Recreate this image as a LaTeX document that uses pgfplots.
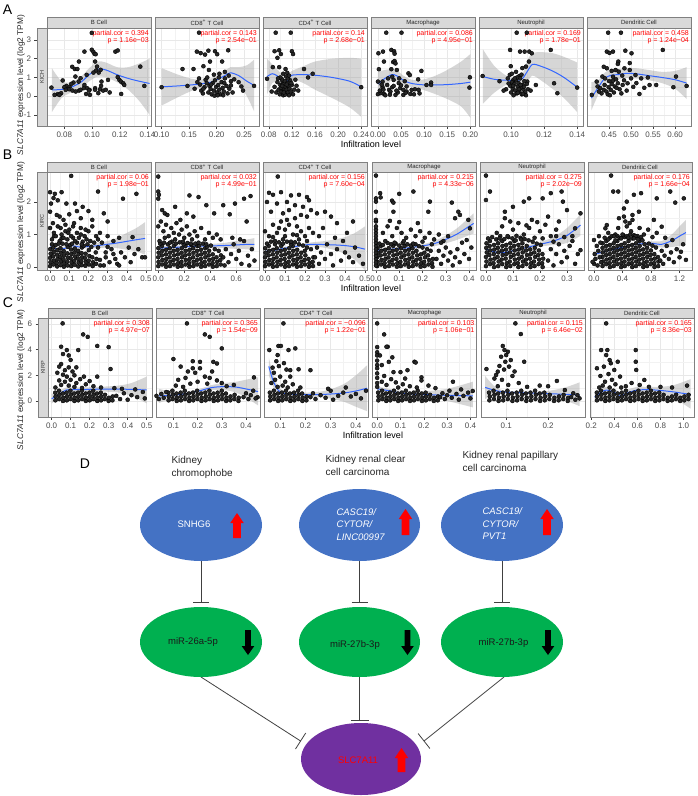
\documentclass[border=0pt]{standalone}
\usepackage{pgfplots}
\pgfplotsset{compat=1.18}
\usepgfplotslibrary{fillbetween}
\usepackage{fontspec}
\setmainfont{Liberation Sans}

\definecolor{lineblue}{HTML}{3366FF}
\definecolor{bandgray}{HTML}{999999}
\definecolor{stripgray}{HTML}{D9D9D9}
\definecolor{ellblue}{HTML}{4472C4}
\definecolor{ellgreen}{HTML}{00B050}
\definecolor{ellpurple}{HTML}{7030A0}

\tikzset{corr/.style={anchor=north east, align=right, font=\fontsize{7}{6.6}\selectfont, text=red, inner sep=0pt, xshift=-2pt, yshift=-2.2pt}}

\pgfplotsset{
  panel/.style={
    scale only axis, width=104pt, anchor=north west,
    axis line style={draw=black!50, line width=0.6pt},
    grid=both, minor tick num=1,
    major grid style={draw=black!9, line width=0.5pt},
    minor grid style={draw=black!5, line width=0.3pt},
    xtick pos=bottom, ytick pos=left, tick align=outside,
    major tick length=2.5pt, minor tick length=0pt,
    tick style={draw=black!75, line width=0.5pt},
    ytick style={draw=none},
    yticklabels={},
    tick label style={font=\fontsize{8}{8}\selectfont, text=black!70},
    /pgf/number format/assume math mode=true,
  },
  stripax/.style={
    scale only axis, width=10pt, anchor=north west,
    xmin=0, xmax=1, xtick=\empty, ytick pos=left, tick align=outside,
    major tick length=2.5pt, tick style={draw=black!75, line width=0.5pt},
    axis line style={draw=black!50, line width=0.6pt},
    axis background/.style={fill=stripgray},
    tick label style={font=\fontsize{8}{8}\selectfont, text=black!70},
    /pgf/number format/assume math mode=true,
  },
  dec2/.style={xticklabel style={/pgf/number format/fixed, /pgf/number format/fixed zerofill, /pgf/number format/precision=2}},
  dec1/.style={xticklabel style={/pgf/number format/fixed, /pgf/number format/fixed zerofill, /pgf/number format/precision=1}},
  rowA/.style={height=98pt, ymin=-1.59, ymax=3.64, ytick={-1,0,1,2,3}},
  rowB/.style={height=98pt, ymin=-0.09, ymax=2.92, ytick={0,1,2}},
  rowC/.style={height=99pt, ymin=-1.25, ymax=6.47, ytick={0,2,4,6}},
  pts/.style={only marks, mark=*, mark size=2pt, mark options={draw=none, fill=black!85}},
  hid/.style={draw=none, smooth, forget plot},
  ribbon/.style={fill=bandgray, fill opacity=0.4, draw=none},
  loess/.style={draw=lineblue, line width=1pt, smooth, no markers},
}

\newcommand{\redup}[3]{\fill[red] (#1,#2) -- ({#1+6.7},{#2+10}) -- ({#1+3.8},{#2+10}) -- ({#1+3.8},#3) -- ({#1-3.8},#3) -- ({#1-3.8},{#2+10}) -- ({#1-6.7},{#2+10}) -- cycle;}
\newcommand{\blackdown}[3]{\fill[black] (#1,#3) -- ({#1+6.3},{#3-9}) -- ({#1+2.8},{#3-9}) -- ({#1+2.8},#2) -- ({#1-2.8},#2) -- ({#1-2.8},{#3-9}) -- ({#1-6.3},{#3-9}) -- cycle;}

\begin{document}
\begin{tikzpicture}

% ================= ROW A : KICH =================
\begin{axis}[stripax, rowA, at={(37pt,-28pt)}]
\node[rotate=90, font=\fontsize{5.5}{5.5}\selectfont, text=black!80] at (rel axis cs:0.5,0.5) {KICH};
\end{axis}

\begin{axis}[panel, rowA, dec2, at={(47pt,-28pt)}, xmin=0.0675, xmax=0.1425, xtick={0.08,0.10,0.12,0.14}]
\addplot[pts] coordinates {
(0.0998,3.38)(0.0945,2.38)(0.0998,2.48)(0.1010,2.36)(0.1018,2.26)(0.1026,2.24)(0.1168,2.38)(0.1185,2.44)
(0.0905,1.85)(0.1022,1.85)(0.1348,1.58)(0.0857,1.57)(0.0876,1.45)(0.0894,1.45)(0.1036,1.58)(0.1029,1.37)
(0.1010,1.26)(0.1048,1.26)(0.1062,1.41)(0.0961,1.14)(0.1068,0.78)(0.1115,0.87)(0.1185,1.02)(0.1197,0.87)
(0.1208,0.78)(0.1225,0.69)(0.1232,0.60)(0.0880,1.05)(0.0917,0.96)(0.0903,0.78)(0.0866,0.73)(0.0850,0.66)
(0.0815,0.55)(0.0838,0.48)(0.0707,0.46)(0.0788,0.84)(0.0800,0.48)(0.0810,0.34)(0.0777,0.16)(0.0753,0.11)
(0.0730,0.07)(0.0765,0.07)(0.0836,0.37)(0.0859,0.30)(0.0882,0.25)(0.0906,0.30)(0.0917,0.34)(0.0940,0.43)
(0.0964,0.43)(0.0982,0.34)(0.1022,0.43)(0.1057,0.37)(0.1080,0.30)(0.1099,0.34)(0.1127,0.20)(0.1022,0.34)
(0.1045,0.16)(0.0985,0.07)(0.0957,0.12)(0.1210,0.12)(0.1377,0.55)(0.0945,0.60)(0.0978,0.30)(0.1065,0.55)};
\addplot[hid, name path=U] coordinates {(0.071,1.50)(0.078,0.80)(0.085,0.75)(0.092,1.05)(0.098,1.50)(0.104,1.85)(0.110,1.80)(0.118,1.55)(0.126,1.55)(0.134,1.75)(0.1415,2.00)};
\addplot[hid, name path=L] coordinates {(0.071,-0.85)(0.078,-0.10)(0.085,0.20)(0.092,0.45)(0.098,0.80)(0.104,1.05)(0.110,1.00)(0.118,0.75)(0.126,0.35)(0.134,-0.25)(0.1415,-1.00)};
\addplot[ribbon] fill between[of=U and L];
\addplot[loess] coordinates {(0.071,0.34)(0.078,0.36)(0.085,0.48)(0.092,0.75)(0.098,1.15)(0.104,1.45)(0.110,1.40)(0.118,1.15)(0.126,0.95)(0.134,0.80)(0.1415,0.68)};
\node[corr] at (rel axis cs:1,1) {partial.cor = 0.394\\p = 1.16e−03};
\end{axis}

\begin{axis}[panel, rowA, dec2, at={(155pt,-28pt)}, xmin=0.088, xmax=0.277, xtick={0.10,0.15,0.20,0.25}]
\addplot[pts] coordinates {
(0.168,3.39)(0.164,2.38)(0.171,2.30)(0.179,2.22)(0.185,2.43)(0.197,2.40)(0.201,2.24)(0.221,2.45)
(0.188,1.85)(0.186,1.40)(0.210,1.85)(0.138,1.45)(0.158,1.45)(0.176,1.60)(0.195,1.15)(0.205,1.20)
(0.215,1.30)(0.222,1.10)(0.232,0.90)(0.240,0.75)(0.245,0.52)(0.248,0.30)(0.268,0.55)(0.100,0.48)
(0.147,0.55)(0.160,0.40)(0.165,0.75)(0.170,0.62)(0.172,0.30)(0.175,0.15)(0.178,0.48)(0.180,0.88)
(0.182,0.70)(0.185,0.20)(0.187,0.55)(0.189,0.38)(0.191,0.10)(0.193,0.70)(0.195,0.30)(0.197,0.85)
(0.199,0.50)(0.201,0.20)(0.203,0.60)(0.205,0.35)(0.207,0.10)(0.209,0.75)(0.211,0.45)(0.213,0.25)
(0.215,0.95)(0.218,0.55)(0.220,0.15)(0.223,0.40)(0.226,0.80)(0.229,0.20)(0.212,0.05)(0.196,0.03)
(0.183,1.00)(0.168,0.95)(0.226,0.58)(0.204,1.00)(0.190,0.62)(0.214,0.70)(0.202,0.05)(0.176,0.40)};
\addplot[hid, name path=U] coordinates {(0.100,1.50)(0.130,1.15)(0.160,0.90)(0.190,0.95)(0.205,1.15)(0.215,1.35)(0.225,1.55)(0.240,1.55)(0.255,1.65)(0.268,1.95)};
\addplot[hid, name path=L] coordinates {(0.100,-0.50)(0.130,-0.05)(0.160,0.35)(0.190,0.55)(0.205,0.75)(0.215,0.85)(0.225,0.95)(0.240,0.65)(0.255,0.00)(0.268,-0.80)};
\addplot[ribbon] fill between[of=U and L];
\addplot[loess] coordinates {(0.100,0.50)(0.130,0.55)(0.160,0.62)(0.190,0.75)(0.205,0.95)(0.215,1.10)(0.225,1.25)(0.240,1.10)(0.255,0.80)(0.268,0.58)};
\node[corr] at (rel axis cs:1,1) {partial.cor = 0.143\\p = 2.54e−01};
\end{axis}

\begin{axis}[panel, rowA, dec2, at={(263pt,-28pt)}, xmin=0.07, xmax=0.25, xtick={0.08,0.12,0.16,0.20,0.24}]
\addplot[pts] coordinates {
(0.092,3.39)(0.118,3.39)(0.090,2.40)(0.098,2.45)(0.101,2.25)(0.095,2.05)(0.120,2.40)(0.122,2.25)
(0.077,0.93)(0.087,1.55)(0.098,1.55)(0.109,1.45)(0.110,1.05)(0.104,0.78)(0.141,1.45)(0.156,1.20)
(0.148,1.00)(0.126,0.88)(0.128,0.56)(0.240,0.48)(0.085,0.25)(0.090,0.50)(0.093,0.20)(0.095,0.75)
(0.097,0.35)(0.099,0.10)(0.100,0.60)(0.102,0.25)(0.103,0.90)(0.104,0.40)(0.105,0.05)(0.106,0.65)
(0.107,0.30)(0.108,0.80)(0.109,0.15)(0.110,0.50)(0.111,0.35)(0.112,0.70)(0.113,0.20)(0.114,0.55)
(0.115,0.05)(0.116,0.40)(0.117,0.85)(0.118,0.25)(0.120,0.60)(0.122,0.10)(0.124,0.35)(0.105,1.20)
(0.112,1.25)(0.100,1.00)(0.096,0.95)(0.108,0.08)(0.113,0.95)(0.119,0.70)(0.101,0.45)(0.111,0.62)
(0.106,0.20)(0.103,0.55)(0.131,0.30)(0.115,1.10)};
\addplot[hid, name path=U] coordinates {(0.077,2.00)(0.086,1.70)(0.094,1.45)(0.100,1.25)(0.106,1.00)(0.110,0.90)(0.114,1.15)(0.120,1.35)(0.140,1.60)(0.160,1.85)(0.190,2.00)(0.220,2.05)(0.240,2.00)};
\addplot[hid, name path=L] coordinates {(0.077,0.10)(0.086,0.70)(0.094,0.75)(0.100,0.65)(0.106,0.50)(0.110,0.40)(0.114,0.65)(0.120,0.90)(0.140,0.70)(0.160,0.35)(0.190,-0.10)(0.220,-0.60)(0.240,-1.10)};
\addplot[ribbon] fill between[of=U and L];
\addplot[loess] coordinates {(0.077,1.05)(0.086,1.20)(0.094,1.10)(0.100,0.95)(0.106,0.75)(0.110,0.65)(0.114,0.90)(0.120,1.12)(0.140,1.15)(0.160,1.12)(0.190,1.00)(0.220,0.80)(0.240,0.50)};
\node[corr] at (rel axis cs:1,1) {partial.cor = 0.14\\p = 2.68e−01};
\end{axis}

\begin{axis}[panel, rowA, dec2, at={(371pt,-28pt)}, xmin=-0.015, xmax=0.21, xtick={0,0.05,0.10,0.15,0.20}]
\addplot[pts] coordinates {
(0.018,3.39)(0.051,3.39)(0.001,2.29)(0.011,2.38)(0.029,2.47)(0.035,2.40)(0.036,2.27)(0.013,1.85)
(0.033,1.82)(0.036,1.88)(0.038,1.75)(0.002,1.44)(0.029,1.44)(0.041,1.40)(0.066,1.22)(0.069,1.13)
(0.094,1.35)(0.115,0.73)(0.087,0.90)(0.000,0.78)(0.010,0.78)(0.031,1.04)(0.034,0.87)(0.045,0.70)
(0.000,0.11)(0.006,0.16)(0.013,0.12)(0.024,0.34)(0.031,0.48)(0.038,0.07)(0.048,0.43)(0.055,0.34)
(0.062,0.25)(0.073,0.34)(0.080,0.37)(0.088,0.34)(0.010,0.48)(0.020,0.60)(0.027,0.25)(0.062,0.52)
(0.055,0.07)(0.105,0.60)(0.115,0.60)(0.199,1.01)(0.198,0.46)(0.004,0.30)(0.016,0.05)(0.043,0.20)
(0.050,0.58)(0.070,0.12)(0.022,0.95)(0.008,0.62)(0.058,0.80)(0.078,0.10)(0.040,0.30)(0.026,0.08)
(0.012,0.35)(0.046,0.95)(0.060,0.18)(0.090,0.15)(0.034,0.55)};
\addplot[hid, name path=U] coordinates {(0.0,1.30)(0.015,1.40)(0.03,1.45)(0.04,1.40)(0.055,1.10)(0.07,0.90)(0.09,0.85)(0.12,1.05)(0.15,1.40)(0.18,1.85)(0.20,2.25)};
\addplot[hid, name path=L] coordinates {(0.0,0.00)(0.015,0.50)(0.03,0.85)(0.04,0.80)(0.055,0.60)(0.07,0.50)(0.09,0.40)(0.12,0.15)(0.15,-0.15)(0.18,-0.55)(0.20,-1.15)};
\addplot[ribbon] fill between[of=U and L];
\addplot[loess] coordinates {(0.0,0.65)(0.015,0.95)(0.03,1.15)(0.04,1.10)(0.055,0.85)(0.07,0.70)(0.09,0.62)(0.12,0.60)(0.15,0.62)(0.18,0.68)(0.20,0.75)};
\node[corr] at (rel axis cs:1,1) {partial.cor = 0.086\\p = 4.95e−01};
\end{axis}

\begin{axis}[panel, rowA, dec2, at={(479pt,-28pt)}, xmin=0.0806, xmax=0.1435, xtick={0.10,0.12,0.14}]
\addplot[pts] coordinates {
(0.1034,3.39)(0.1095,3.39)(0.0994,2.47)(0.1054,2.38)(0.1082,2.38)(0.1110,2.38)(0.1125,2.29)(0.1240,2.47)
(0.1108,1.85)(0.0998,1.60)(0.1068,1.50)(0.1090,1.58)(0.0992,1.14)(0.1030,1.30)(0.1050,1.08)(0.0970,0.37)
(0.1014,0.87)(0.1098,0.78)(0.1102,0.37)(0.1150,0.60)(0.1260,0.69)(0.1280,0.16)(0.1400,0.46)(0.0828,1.08)
(0.0930,0.80)(0.0955,0.30)(0.0980,0.95)(0.0995,0.55)(0.1000,0.20)(0.1005,0.75)(0.1010,0.40)(0.1015,0.05)
(0.1020,0.65)(0.1025,0.30)(0.1030,0.85)(0.1035,0.15)(0.1040,0.50)(0.1045,0.70)(0.1050,0.25)(0.1055,0.95)
(0.1060,0.45)(0.1065,0.10)(0.1070,0.60)(0.1075,0.35)(0.1080,0.80)(0.1085,0.20)(0.1090,0.05)(0.1063,1.15)
(0.1036,1.00)(0.1012,0.55)(0.1048,0.38)(0.1072,0.12)(0.1022,0.95)(0.0985,0.68)(0.1041,0.18)(0.1078,0.50)
(0.1095,0.65)(0.1005,1.20)(0.1118,0.30)(0.1058,0.60)};
\addplot[hid, name path=U] coordinates {(0.083,2.50)(0.090,1.60)(0.098,1.05)(0.104,1.00)(0.107,1.20)(0.110,1.95)(0.113,2.30)(0.118,2.35)(0.125,2.30)(0.132,2.10)(0.140,1.80)};
\addplot[hid, name path=L] coordinates {(0.083,-0.40)(0.090,0.20)(0.098,0.65)(0.104,0.70)(0.107,0.70)(0.110,0.80)(0.113,1.10)(0.118,0.85)(0.125,0.40)(0.132,-0.10)(0.140,-0.85)};
\addplot[ribbon] fill between[of=U and L];
\addplot[loess] coordinates {(0.083,1.05)(0.090,0.90)(0.098,0.85)(0.104,0.85)(0.107,0.95)(0.110,1.35)(0.113,1.70)(0.118,1.60)(0.125,1.35)(0.132,1.00)(0.140,0.48)};
\node[corr] at (rel axis cs:1,1) {partial.cor = 0.169\\p = 1.78e−01};
\end{axis}

\begin{axis}[panel, rowA, dec2, at={(587pt,-28pt)}, xmin=0.40, xmax=0.636, xtick={0.45,0.50,0.55,0.60}]
\addplot[pts] coordinates {
(0.448,3.39)(0.477,3.39)(0.445,2.38)(0.451,2.31)(0.459,2.38)(0.487,2.43)(0.501,2.29)(0.572,2.47)
(0.471,1.85)(0.470,1.72)(0.497,1.77)(0.438,1.57)(0.445,1.49)(0.456,1.35)(0.465,1.40)(0.472,1.31)
(0.485,1.49)(0.497,1.40)(0.510,1.13)(0.435,1.05)(0.422,0.78)(0.411,0.07)(0.424,0.52)(0.430,0.43)
(0.438,0.34)(0.444,0.25)(0.449,0.48)(0.454,0.34)(0.463,0.52)(0.470,0.69)(0.474,0.37)(0.481,0.60)
(0.492,0.69)(0.519,0.12)(0.542,0.60)(0.557,0.60)(0.596,0.48)(0.602,1.05)(0.626,0.55)(0.459,1.04)
(0.450,0.81)(0.459,0.83)(0.538,1.00)(0.523,0.95)(0.433,0.15)(0.440,0.60)(0.447,0.10)(0.456,0.65)
(0.461,0.20)(0.467,0.45)(0.478,0.15)(0.484,0.85)(0.490,0.30)(0.505,0.50)(0.427,0.25)(0.441,0.95)
(0.452,0.05)(0.466,0.90)(0.480,1.10)(0.512,0.70)(0.500,0.95)(0.530,0.45)};
\addplot[hid, name path=U] coordinates {(0.41,0.75)(0.425,0.85)(0.44,1.25)(0.455,1.45)(0.47,1.45)(0.49,1.50)(0.51,1.50)(0.54,1.40)(0.57,1.30)(0.60,1.35)(0.626,1.55)};
\addplot[hid, name path=L] coordinates {(0.41,-0.75)(0.425,0.05)(0.44,0.65)(0.455,0.85)(0.47,0.90)(0.49,0.98)(0.51,0.95)(0.54,0.85)(0.57,0.70)(0.60,0.40)(0.626,-0.15)};
\addplot[ribbon] fill between[of=U and L];
\addplot[loess] coordinates {(0.41,-0.10)(0.425,0.45)(0.44,0.95)(0.455,1.12)(0.47,1.15)(0.49,1.22)(0.51,1.20)(0.54,1.10)(0.57,1.00)(0.60,0.88)(0.626,0.70)};
\node[corr] at (rel axis cs:1,1) {partial.cor = 0.458\\p = 1.24e−04};
\end{axis}

% ================= ROW B : KIRC =================
\begin{axis}[stripax, rowB, at={(37pt,-172pt)}]
\node[rotate=90, font=\fontsize{5.5}{5.5}\selectfont, text=black!80] at (rel axis cs:0.5,0.5) {KIRC};
\end{axis}

\begin{axis}[panel, rowB, dec1, at={(47pt,-172pt)}, xmin=-0.016, xmax=0.526, xtick={0,0.1,0.2,0.3,0.4,0.5}]
\addplot[pts] coordinates {
(0.000,0.03)(0.002,0.15)(0.000,0.28)(0.003,0.41)(0.001,0.55)
(0.018,0.08)(0.020,0.20)(0.016,0.33)(0.019,0.47)(0.017,0.60)
(0.037,0.02)(0.035,0.13)(0.039,0.25)(0.036,0.38)(0.038,0.52)
(0.055,0.06)(0.057,0.18)(0.053,0.31)(0.056,0.44)(0.054,0.58)
(0.072,0.01)(0.074,0.12)(0.070,0.24)(0.073,0.36)(0.071,0.49)
(0.091,0.05)(0.089,0.17)(0.093,0.29)(0.090,0.42)(0.092,0.62)
(0.110,0.03)(0.112,0.15)(0.108,0.27)(0.111,0.40)(0.109,0.54)
(0.128,0.07)(0.126,0.19)(0.130,0.32)(0.127,0.45)(0.129,0.57)
(0.147,0.02)(0.149,0.14)(0.145,0.26)(0.148,0.39)(0.146,0.50)
(0.165,0.06)(0.163,0.18)(0.167,0.30)(0.164,0.43)(0.166,0.60)
(0.184,0.04)(0.186,0.16)(0.182,0.28)(0.185,0.41)
(0.203,0.08)(0.201,0.20)(0.205,0.34)(0.202,0.52)
(0.222,0.03)(0.224,0.15)(0.220,0.30)
(0.240,0.10)(0.242,0.25)(0.238,0.45)
(0.262,0.05)(0.260,0.22)
(0.010,0.70)(0.030,0.68)(0.065,0.72)(0.085,0.70)(0.105,0.68)(0.140,0.75)(0.175,0.65)(0.195,0.70)
(0.215,0.62)(0.250,0.60)(0.060,0.88)(0.120,0.90)(0.020,0.95)(0.080,1.10)(0.160,1.00)
(0.110,2.80)(0.000,2.30)(0.025,2.25)(0.018,2.12)(0.060,2.30)(0.005,1.95)(0.040,2.05)(0.085,1.95)
(0.130,1.95)(0.250,2.32)(0.380,2.10)(0.450,2.25)(0.170,1.85)(0.200,1.72)(0.280,1.65)(0.000,1.70)
(0.035,1.60)(0.050,1.55)(0.100,1.62)(0.140,1.72)(0.070,1.45)(0.160,1.50)(0.220,1.45)(0.300,1.40)
(0.000,1.20)(0.020,1.05)(0.040,1.25)(0.060,1.00)(0.080,1.30)(0.100,1.15)(0.120,1.25)(0.140,1.05)
(0.160,1.20)(0.180,0.95)(0.200,1.10)(0.220,1.25)(0.240,0.95)(0.260,1.05)(0.300,0.95)(0.330,0.80)
(0.360,0.90)(0.430,0.92)(0.010,0.85)(0.030,0.95)(0.050,0.80)(0.070,0.90)(0.090,0.85)(0.110,0.95)
(0.130,0.80)(0.150,0.90)(0.170,0.78)(0.190,0.85)(0.210,0.80)(0.230,0.75)(0.250,0.85)(0.270,0.75)
(0.015,1.35)(0.055,1.20)(0.095,1.05)(0.125,1.35)(0.185,1.15)(0.045,0.72)(0.115,0.72)(0.165,0.70)
(0.290,0.30)(0.310,0.15)(0.320,0.55)(0.340,0.25)(0.350,0.10)(0.370,0.45)(0.390,0.30)(0.410,0.60)
(0.440,0.40)(0.480,0.30)(0.495,0.30)(0.300,0.62)(0.330,0.40)(0.360,0.05)(0.420,0.15)(0.460,0.55)
(0.280,0.05)(0.290,0.45)};
\addplot[hid, name path=U] coordinates {(0.0,0.70)(0.04,0.62)(0.08,0.64)(0.11,0.72)(0.15,0.68)(0.2,0.69)(0.25,0.74)(0.3,0.80)(0.35,0.90)(0.4,1.05)(0.45,1.20)(0.495,1.38)};
\addplot[hid, name path=L] coordinates {(0.0,0.54)(0.04,0.48)(0.08,0.52)(0.11,0.60)(0.15,0.56)(0.2,0.57)(0.25,0.58)(0.3,0.60)(0.35,0.58)(0.4,0.53)(0.45,0.48)(0.495,0.38)};
\addplot[ribbon] fill between[of=U and L];
\addplot[loess] coordinates {(0.0,0.62)(0.04,0.55)(0.08,0.58)(0.11,0.66)(0.15,0.62)(0.2,0.63)(0.25,0.66)(0.3,0.70)(0.35,0.74)(0.4,0.79)(0.45,0.84)(0.495,0.88)};
\node[corr] at (rel axis cs:1,1) {partial.cor = 0.06\\p = 1.98e−01};
\end{axis}

\begin{axis}[panel, rowB, dec1, at={(155pt,-172pt)}, xmin=-0.025, xmax=0.775, xtick={0,0.2,0.4,0.6}]
\addplot[pts] coordinates {
(0.000,0.03)(0.002,0.16)(0.000,0.30)(0.003,0.44)(0.001,0.58)
(0.030,0.08)(0.032,0.22)(0.028,0.36)(0.031,0.50)(0.029,0.65)
(0.060,0.01)(0.058,0.12)(0.062,0.25)(0.059,0.39)(0.061,0.53)
(0.090,0.03)(0.092,0.16)(0.088,0.30)(0.091,0.44)(0.089,0.58)
(0.120,0.08)(0.118,0.22)(0.122,0.36)(0.119,0.50)(0.121,0.65)
(0.150,0.01)(0.152,0.12)(0.148,0.25)(0.151,0.39)(0.149,0.53)
(0.180,0.03)(0.178,0.16)(0.182,0.30)(0.179,0.44)(0.181,0.58)
(0.210,0.08)(0.212,0.22)(0.208,0.36)(0.211,0.50)(0.209,0.65)
(0.240,0.01)(0.238,0.12)(0.242,0.25)(0.239,0.39)(0.241,0.53)
(0.270,0.03)(0.272,0.16)(0.268,0.30)(0.271,0.44)(0.269,0.58)
(0.300,0.08)(0.298,0.22)(0.302,0.36)(0.299,0.50)(0.301,0.65)
(0.330,0.01)(0.332,0.12)(0.328,0.25)(0.331,0.39)(0.329,0.53)
(0.360,0.03)(0.358,0.16)(0.362,0.30)(0.359,0.44)(0.361,0.58)
(0.390,0.08)(0.392,0.22)(0.388,0.36)(0.391,0.50)
(0.420,0.01)(0.418,0.12)(0.422,0.25)(0.419,0.39)
(0.450,0.03)(0.452,0.16)(0.448,0.30)
(0.480,0.08)(0.478,0.22)(0.482,0.36)
(0.015,0.72)(0.045,0.75)(0.075,0.70)(0.105,0.78)(0.135,0.72)(0.165,0.76)(0.195,0.70)(0.225,0.74)
(0.255,0.68)(0.285,0.72)(0.315,0.66)(0.345,0.72)(0.375,0.62)(0.405,0.66)(0.435,0.55)(0.465,0.50)
(0.000,2.78)(0.000,2.32)(0.005,2.22)(0.000,2.10)(0.030,1.75)(0.050,1.65)(0.070,1.60)(0.130,1.85)
(0.220,1.65)(0.240,2.20)(0.310,2.15)(0.370,1.90)(0.430,1.65)(0.500,1.90)(0.550,1.62)(0.590,1.95)
(0.660,2.10)(0.710,2.18)(0.680,1.40)(0.270,1.55)(0.170,1.45)
(0.000,1.25)(0.020,1.40)(0.040,1.10)(0.060,1.30)(0.080,0.95)(0.100,1.20)(0.120,1.05)(0.140,1.35)
(0.160,1.00)(0.180,1.15)(0.200,0.90)(0.220,1.25)(0.240,1.00)(0.260,0.85)(0.280,1.10)(0.300,0.95)
(0.330,1.20)(0.360,0.85)(0.390,1.05)(0.420,0.90)(0.450,1.00)(0.480,0.85)(0.010,0.80)(0.050,0.90)
(0.090,0.75)(0.130,0.85)(0.190,0.78)(0.250,0.72)(0.310,0.75)(0.370,0.70)
(0.500,0.30)(0.520,0.55)(0.540,0.15)(0.560,0.40)(0.580,0.70)(0.600,0.25)(0.620,0.50)(0.640,0.10)
(0.660,0.80)(0.690,0.35)(0.720,0.55)(0.740,0.20)(0.700,0.05)(0.510,0.05)(0.570,0.90)(0.630,0.85)};
\addplot[hid, name path=U] coordinates {(0.0,0.66)(0.1,0.66)(0.2,0.67)(0.3,0.69)(0.4,0.71)(0.5,0.74)(0.6,0.80)(0.7,0.86)(0.74,0.89)};
\addplot[hid, name path=L] coordinates {(0.0,0.50)(0.1,0.54)(0.2,0.57)(0.3,0.59)(0.4,0.59)(0.5,0.58)(0.6,0.56)(0.7,0.54)(0.74,0.51)};
\addplot[ribbon] fill between[of=U and L];
\addplot[loess] coordinates {(0.0,0.58)(0.1,0.60)(0.2,0.62)(0.3,0.64)(0.4,0.65)(0.5,0.66)(0.6,0.68)(0.7,0.70)(0.74,0.70)};
\node[corr] at (rel axis cs:1,1) {partial.cor = 0.032\\p = 4.99e−01};
\end{axis}

\begin{axis}[panel, rowB, dec1, at={(263pt,-172pt)}, xmin=-0.01, xmax=0.51, xtick={0,0.1,0.2,0.3,0.4,0.5}]
\addplot[pts] coordinates {
(0.000,0.03)(0.002,0.16)(0.000,0.30)(0.003,0.44)(0.001,0.58)
(0.020,0.08)(0.022,0.22)(0.018,0.36)(0.021,0.50)(0.019,0.65)
(0.040,0.01)(0.038,0.12)(0.042,0.25)(0.039,0.39)(0.041,0.53)
(0.060,0.03)(0.062,0.16)(0.058,0.30)(0.061,0.44)(0.059,0.58)
(0.080,0.08)(0.078,0.22)(0.082,0.36)(0.079,0.50)(0.081,0.65)
(0.100,0.01)(0.102,0.12)(0.098,0.25)(0.101,0.39)(0.099,0.53)
(0.120,0.03)(0.118,0.16)(0.122,0.30)(0.119,0.44)(0.121,0.58)
(0.140,0.08)(0.142,0.22)(0.138,0.36)(0.141,0.50)(0.139,0.65)
(0.160,0.01)(0.158,0.12)(0.162,0.25)(0.159,0.39)(0.161,0.53)
(0.180,0.03)(0.182,0.16)(0.178,0.30)(0.181,0.44)
(0.200,0.08)(0.198,0.22)(0.202,0.36)(0.199,0.50)
(0.220,0.01)(0.222,0.12)(0.218,0.25)
(0.240,0.03)(0.238,0.16)(0.242,0.30)
(0.010,0.72)(0.030,0.78)(0.050,0.70)(0.070,0.76)(0.090,0.72)(0.110,0.78)(0.130,0.70)(0.150,0.76)
(0.170,0.70)(0.190,0.66)(0.210,0.60)(0.230,0.55)(0.040,0.92)(0.100,0.95)(0.160,0.98)
(0.064,2.78)(0.020,2.28)(0.040,2.22)(0.080,2.30)(0.130,2.20)(0.170,2.22)(0.210,2.15)(0.220,2.05)
(0.010,2.00)(0.060,1.95)(0.110,2.00)(0.150,1.90)(0.190,1.85)(0.230,1.75)(0.030,1.70)(0.090,1.65)
(0.120,1.75)(0.180,1.60)(0.210,1.55)(0.260,1.65)(0.300,1.70)(0.330,1.55)(0.360,1.35)(0.440,1.40)
(0.410,1.05)
(0.000,1.10)(0.020,0.95)(0.040,1.30)(0.060,1.05)(0.080,1.40)(0.100,1.15)(0.120,1.30)(0.140,1.00)
(0.160,1.25)(0.180,1.10)(0.200,0.95)(0.220,1.20)(0.240,1.05)(0.270,0.95)(0.290,1.20)(0.050,0.80)
(0.090,0.85)(0.130,0.78)(0.170,0.85)(0.210,0.80)(0.110,1.45)(0.150,1.50)(0.070,1.20)
(0.250,0.30)(0.260,0.60)(0.270,0.10)(0.280,0.45)(0.300,0.25)(0.310,0.70)(0.330,0.40)(0.340,0.05)
(0.360,0.55)(0.380,0.20)(0.400,0.45)(0.420,0.30)(0.440,0.15)(0.450,0.60)(0.470,0.35)(0.490,0.10)
(0.390,0.80)(0.350,0.90)};
\addplot[hid, name path=U] coordinates {(0.0,0.56)(0.05,0.58)(0.1,0.62)(0.15,0.67)(0.2,0.73)(0.25,0.77)(0.3,0.80)(0.35,0.85)(0.4,0.92)(0.45,1.05)(0.5,1.25)};
\addplot[hid, name path=L] coordinates {(0.0,0.40)(0.05,0.46)(0.1,0.54)(0.15,0.59)(0.2,0.63)(0.25,0.63)(0.3,0.59)(0.35,0.52)(0.4,0.40)(0.45,0.22)(0.5,-0.10)};
\addplot[ribbon] fill between[of=U and L];
\addplot[loess] coordinates {(0.0,0.48)(0.05,0.52)(0.1,0.58)(0.15,0.63)(0.2,0.68)(0.25,0.70)(0.3,0.69)(0.35,0.68)(0.4,0.66)(0.45,0.62)(0.5,0.55)};
\node[corr] at (rel axis cs:1,1) {partial.cor = 0.156\\p = 7.60e−04};
\end{axis}

\begin{axis}[panel, rowB, dec1, at={(372pt,-172pt)}, xmin=-0.017, xmax=0.43, xtick={0,0.1,0.2,0.3,0.4}]
\addplot[pts] coordinates {
(0.005,0.03)(0.007,0.16)(0.005,0.30)(0.008,0.44)(0.006,0.58)
(0.022,0.08)(0.024,0.22)(0.020,0.36)(0.023,0.50)(0.021,0.65)
(0.039,0.01)(0.037,0.12)(0.041,0.25)(0.038,0.39)(0.040,0.53)
(0.056,0.03)(0.058,0.16)(0.054,0.30)(0.057,0.44)(0.055,0.58)
(0.073,0.08)(0.071,0.22)(0.075,0.36)(0.072,0.50)(0.074,0.65)
(0.090,0.01)(0.092,0.12)(0.088,0.25)(0.091,0.39)(0.089,0.53)
(0.107,0.03)(0.105,0.16)(0.109,0.30)(0.106,0.44)(0.108,0.58)
(0.124,0.08)(0.126,0.22)(0.122,0.36)(0.125,0.50)(0.123,0.65)
(0.141,0.01)(0.139,0.12)(0.143,0.25)(0.140,0.39)(0.142,0.53)
(0.158,0.03)(0.160,0.16)(0.156,0.30)(0.159,0.44)(0.157,0.58)
(0.175,0.08)(0.173,0.22)(0.177,0.36)(0.174,0.50)
(0.192,0.01)(0.194,0.12)(0.190,0.25)(0.193,0.39)
(0.209,0.03)(0.207,0.16)(0.211,0.30)(0.208,0.44)
(0.226,0.08)(0.228,0.22)(0.224,0.36)
(0.243,0.01)(0.241,0.12)(0.245,0.25)
(0.015,0.72)(0.030,0.68)(0.050,0.74)(0.065,0.70)(0.085,0.72)(0.100,0.66)(0.115,0.74)(0.135,0.70)
(0.150,0.66)(0.170,0.70)(0.185,0.64)(0.200,0.60)(0.220,0.55)(0.235,0.50)
(0.000,0.05)(0.000,0.15)(0.000,0.25)(0.000,0.35)(0.000,0.45)(0.000,0.55)(0.000,0.65)(0.000,0.75)
(0.000,0.85)(0.000,0.95)(0.000,1.05)(0.000,1.15)(0.000,1.25)(0.000,1.40)(0.000,1.45)(0.000,1.70)
(0.000,2.01)(0.000,2.11)(0.000,2.81)
(0.018,2.27)(0.020,2.14)(0.069,2.04)(0.075,1.98)(0.100,2.25)(0.161,2.32)(0.075,1.70)(0.232,2.01)
(0.225,1.70)(0.326,1.98)(0.354,1.70)(0.340,1.50)(0.361,1.60)(0.397,1.45)(0.404,1.19)(0.390,0.83)
(0.030,1.05)(0.050,1.25)(0.070,0.95)(0.090,1.20)(0.110,1.05)(0.130,0.90)(0.150,1.15)(0.170,0.95)
(0.190,1.10)(0.210,0.90)(0.230,1.05)(0.250,0.85)(0.270,1.00)(0.290,0.80)(0.310,0.95)(0.040,0.80)
(0.080,0.75)(0.120,0.80)(0.160,0.72)(0.200,0.78)(0.240,0.70)(0.100,1.38)(0.180,1.35)(0.060,1.42)
(0.260,0.25)(0.270,0.50)(0.280,0.10)(0.290,0.35)(0.300,0.60)(0.310,0.20)(0.320,0.45)(0.330,0.05)
(0.340,0.30)(0.350,0.55)(0.360,0.15)(0.380,0.40)(0.400,0.25)(0.410,0.60)(0.370,0.75)(0.280,0.75)};
\addplot[hid, name path=U] coordinates {(0.0,0.60)(0.05,0.60)(0.1,0.62)(0.15,0.65)(0.2,0.70)(0.25,0.80)(0.3,0.97)(0.35,1.20)(0.4,1.52)(0.42,1.65)};
\addplot[hid, name path=L] coordinates {(0.0,0.44)(0.05,0.48)(0.1,0.52)(0.15,0.55)(0.2,0.60)(0.25,0.64)(0.3,0.73)(0.35,0.84)(0.4,0.98)(0.42,1.03)};
\addplot[ribbon] fill between[of=U and L];
\addplot[loess] coordinates {(0.0,0.52)(0.05,0.54)(0.1,0.57)(0.15,0.60)(0.2,0.65)(0.25,0.72)(0.3,0.85)(0.35,1.02)(0.4,1.25)(0.42,1.34)};
\node[corr] at (rel axis cs:1,1) {partial.cor = 0.215\\p = 4.33e−06};
\end{axis}

\begin{axis}[panel, rowB, dec1, at={(480pt,-172pt)}, xmin=-0.022, xmax=0.363, xtick={0,0.1,0.2,0.3}]
\addplot[pts] coordinates {
(0.000,0.03)(0.002,0.17)(0.000,0.31)(0.003,0.45)(0.001,0.59)(0.002,0.73)
(0.015,0.09)(0.017,0.23)(0.013,0.37)(0.016,0.51)(0.014,0.65)(0.015,0.80)
(0.030,0.00)(0.028,0.12)(0.032,0.26)(0.029,0.40)(0.031,0.54)(0.030,0.68)
(0.045,0.03)(0.047,0.17)(0.043,0.31)(0.046,0.45)(0.044,0.59)(0.045,0.73)
(0.060,0.09)(0.058,0.23)(0.062,0.37)(0.059,0.51)(0.061,0.65)(0.060,0.80)
(0.075,0.00)(0.077,0.12)(0.073,0.26)(0.076,0.40)(0.074,0.54)(0.075,0.68)
(0.090,0.03)(0.088,0.17)(0.092,0.31)(0.089,0.45)(0.091,0.59)(0.090,0.73)
(0.105,0.09)(0.107,0.23)(0.103,0.37)(0.106,0.51)(0.104,0.65)(0.105,0.80)
(0.120,0.00)(0.118,0.12)(0.122,0.26)(0.119,0.40)(0.121,0.54)(0.120,0.68)
(0.135,0.03)(0.137,0.17)(0.133,0.31)(0.136,0.45)(0.134,0.59)(0.135,0.73)
(0.150,0.09)(0.148,0.23)(0.152,0.37)(0.149,0.51)(0.151,0.65)
(0.165,0.00)(0.167,0.12)(0.163,0.26)(0.166,0.40)(0.164,0.54)
(0.180,0.03)(0.178,0.17)(0.182,0.31)(0.179,0.45)(0.181,0.59)
(0.195,0.09)(0.197,0.23)(0.193,0.37)(0.196,0.51)
(0.210,0.00)(0.208,0.12)(0.212,0.26)(0.209,0.40)
(0.008,0.88)(0.023,0.92)(0.038,0.85)(0.053,0.95)(0.068,0.86)(0.083,0.92)(0.098,0.88)(0.113,0.96)
(0.128,0.90)(0.143,0.86)(0.158,0.82)(0.173,0.78)(0.188,0.72)(0.203,0.68)
(0.040,1.05)(0.060,1.25)(0.080,0.95)(0.100,1.15)(0.120,1.35)(0.140,1.00)(0.160,1.20)(0.180,0.90)
(0.200,1.10)(0.220,1.30)(0.240,0.95)(0.260,1.15)(0.050,0.88)(0.090,1.40)(0.130,0.85)(0.170,1.45)
(0.210,0.88)(0.250,0.78)(0.110,0.82)(0.150,1.28)(0.190,1.38)(0.070,1.50)(0.230,1.55)(0.270,1.40)
(0.000,2.81)(0.000,2.06)(0.015,2.32)(0.070,1.70)(0.140,2.01)(0.160,2.11)(0.240,2.27)(0.280,2.32)
(0.285,2.01)(0.210,2.11)(0.350,1.65)(0.330,1.19)(0.350,0.52)(0.100,1.85)(0.300,1.75)(0.320,0.95)
(0.230,0.20)(0.240,0.55)(0.250,0.05)(0.260,0.40)(0.270,0.70)(0.280,0.15)(0.290,0.50)(0.300,0.30)
(0.310,0.65)(0.330,0.10)(0.340,0.40)(0.320,0.80)(0.290,0.92)(0.260,0.95)};
\addplot[hid, name path=U] coordinates {(0.0,0.62)(0.03,0.52)(0.06,0.49)(0.1,0.55)(0.15,0.66)(0.2,0.77)(0.25,0.92)(0.3,1.20)(0.35,1.62)};
\addplot[hid, name path=L] coordinates {(0.0,0.48)(0.03,0.42)(0.06,0.39)(0.1,0.45)(0.15,0.54)(0.2,0.63)(0.25,0.68)(0.3,0.74)(0.35,0.96)};
\addplot[ribbon] fill between[of=U and L];
\addplot[loess] coordinates {(0.0,0.55)(0.03,0.47)(0.06,0.44)(0.1,0.50)(0.15,0.60)(0.2,0.70)(0.25,0.80)(0.3,0.97)(0.35,1.29)};
\node[corr] at (rel axis cs:1,1) {partial.cor = 0.275\\p = 2.02e−09};
\end{axis}

\begin{axis}[panel, rowB, dec1, at={(588pt,-172pt)}, xmin=-0.084, xmax=1.375, xtick={0,0.4,0.8,1.2}]
\addplot[pts] coordinates {
(0.120,0.03)(0.124,0.17)(0.118,0.31)(0.122,0.45)(0.120,0.59)(0.121,0.73)
(0.172,0.09)(0.176,0.23)(0.170,0.37)(0.174,0.51)(0.171,0.65)(0.173,0.80)
(0.224,0.00)(0.220,0.12)(0.227,0.26)(0.222,0.40)(0.225,0.54)(0.223,0.68)(0.224,0.90)
(0.276,0.03)(0.280,0.17)(0.273,0.31)(0.278,0.45)(0.275,0.59)(0.276,0.73)
(0.328,0.09)(0.325,0.23)(0.331,0.37)(0.327,0.51)(0.330,0.65)(0.328,0.80)(0.329,0.95)
(0.380,0.00)(0.384,0.12)(0.377,0.26)(0.382,0.40)(0.379,0.54)(0.381,0.68)
(0.432,0.03)(0.428,0.17)(0.435,0.31)(0.430,0.45)(0.433,0.59)(0.431,0.73)(0.432,0.92)
(0.484,0.09)(0.488,0.23)(0.481,0.37)(0.486,0.51)(0.483,0.65)(0.485,0.80)
(0.536,0.00)(0.532,0.12)(0.539,0.26)(0.534,0.40)(0.537,0.54)(0.535,0.68)(0.536,0.88)
(0.588,0.03)(0.592,0.17)(0.585,0.31)(0.590,0.45)(0.587,0.59)(0.589,0.73)
(0.640,0.09)(0.636,0.23)(0.643,0.37)(0.638,0.51)(0.641,0.65)(0.639,0.80)
(0.692,0.00)(0.696,0.12)(0.689,0.26)(0.694,0.40)(0.691,0.54)
(0.744,0.03)(0.740,0.17)(0.747,0.31)(0.742,0.45)(0.745,0.59)
(0.796,0.09)(0.800,0.23)(0.793,0.37)(0.798,0.51)
(0.848,0.00)(0.844,0.12)(0.851,0.26)(0.846,0.40)
(0.900,0.03)(0.904,0.17)(0.897,0.31)
(0.150,0.90)(0.200,0.85)(0.250,0.95)(0.300,1.00)(0.360,0.90)(0.410,0.98)(0.460,0.95)(0.510,1.00)
(0.560,0.98)(0.610,0.95)(0.660,0.92)(0.710,0.70)(0.770,0.72)(0.820,0.66)(0.870,0.60)
(0.200,1.05)(0.280,0.95)(0.340,1.20)(0.400,1.00)(0.460,1.25)(0.520,1.10)(0.580,0.95)(0.640,1.20)
(0.700,1.00)(0.760,1.15)(0.820,0.92)(0.880,1.05)(0.440,1.40)(0.500,1.35)(0.560,0.88)(0.380,0.88)
(0.620,0.85)(0.300,0.82)(0.480,0.90)(0.680,0.82)(0.420,1.55)(0.540,1.45)
(0.000,0.10)(0.010,0.40)(0.020,0.25)(0.040,0.65)(0.050,0.05)(0.060,0.50)(0.080,0.30)(0.090,0.75)
(0.100,0.15)(-0.020,0.16)(0.000,0.83)(0.070,0.95)
(0.930,0.20)(0.950,0.50)(0.970,0.10)(0.990,0.35)(1.020,0.65)(1.050,0.25)(1.080,0.45)(1.120,0.15)
(1.160,0.55)(1.200,0.30)(1.250,0.70)(1.290,0.22)(1.220,0.47)(1.100,0.83)(1.000,0.90)
(0.240,2.81)(0.270,2.32)(0.340,2.32)(0.460,2.01)(0.560,2.22)(0.660,2.27)(0.880,2.11)(1.140,1.98)
(1.070,2.32)(1.260,2.11)(0.160,1.19)(0.180,1.29)(0.350,1.50)(0.420,1.80)(0.540,1.60)(0.630,1.70)
(0.840,1.45)(0.950,1.24)};
\addplot[hid, name path=U] coordinates {(0.0,0.48)(0.2,0.55)(0.4,0.65)(0.6,0.74)(0.8,0.79)(0.95,0.80)(1.1,1.02)(1.2,1.25)(1.29,1.45)};
\addplot[hid, name path=L] coordinates {(0.0,0.30)(0.2,0.45)(0.4,0.57)(0.6,0.66)(0.8,0.67)(0.95,0.60)(1.1,0.62)(1.2,0.65)(1.29,0.67)};
\addplot[ribbon] fill between[of=U and L];
\addplot[loess] coordinates {(0.0,0.39)(0.2,0.50)(0.4,0.61)(0.6,0.70)(0.8,0.73)(0.95,0.70)(1.1,0.82)(1.2,0.95)(1.29,1.06)};
\node[corr] at (rel axis cs:1,1) {partial.cor = 0.176\\p = 1.66e−04};
\end{axis}

% ================= ROW C : KIRP =================
\begin{axis}[stripax, rowC, at={(38pt,-318pt)}]
\node[rotate=90, font=\fontsize{5.5}{5.5}\selectfont, text=black!80] at (rel axis cs:0.5,0.5) {KIRP};
\end{axis}

\begin{axis}[panel, rowC, dec1, at={(48pt,-318pt)}, xmin=-0.019, xmax=0.528, xtick={0,0.1,0.2,0.3,0.4,0.5}]
\addplot[pts] coordinates {
(0.020,0.05)(0.021,0.35)(0.019,0.65)(0.040,0.15)(0.041,0.48)(0.039,0.80)(0.060,0.00)(0.061,0.25)(0.059,0.58)
(0.080,0.05)(0.081,0.35)(0.079,0.65)(0.100,0.15)(0.101,0.48)(0.099,0.80)(0.120,0.00)(0.121,0.25)(0.119,0.58)
(0.140,0.05)(0.141,0.35)(0.139,0.65)(0.160,0.15)(0.161,0.48)(0.159,0.80)(0.180,0.00)(0.181,0.25)(0.179,0.58)
(0.200,0.05)(0.201,0.35)(0.199,0.65)(0.220,0.15)(0.221,0.48)(0.219,0.80)(0.240,0.00)(0.241,0.25)(0.239,0.58)
(0.260,0.05)(0.261,0.35)(0.259,0.65)(0.280,0.15)(0.281,0.48)(0.300,0.00)(0.301,0.25)(0.320,0.05)(0.321,0.35)
(0.058,6.05)(0.166,5.19)(0.190,5.00)(0.240,4.29)(0.300,4.20)(0.140,3.97)(0.050,4.23)(0.080,3.97)
(0.060,3.66)(0.090,3.55)(0.100,3.20)(0.050,2.88)(0.040,2.68)(0.090,2.62)(0.130,2.62)(0.310,2.49)
(0.070,2.40)(0.110,2.30)(0.030,2.20)(0.060,2.05)(0.080,1.90)(0.120,2.00)(0.170,1.90)(0.240,1.90)
(0.150,1.70)(0.040,1.60)(0.070,1.50)(0.100,1.65)(0.130,1.40)(0.200,1.55)(0.180,1.30)(0.050,1.25)
(0.090,1.20)(0.220,1.15)(0.120,1.10)(0.260,1.05)(0.020,1.05)(0.160,1.02)
(0.340,0.40)(0.360,0.15)(0.380,0.60)(0.400,0.10)(0.420,0.45)(0.450,0.30)(0.480,0.70)(0.490,0.20)
(0.370,0.95)(0.330,1.00)(0.440,0.90)};
\addplot[hid, name path=U] coordinates {(0.0,0.55)(0.04,0.75)(0.075,1.05)(0.15,1.05)(0.25,1.10)(0.35,1.20)(0.42,1.40)(0.5,1.90)};
\addplot[hid, name path=L] coordinates {(0.0,-0.20)(0.04,0.25)(0.075,0.65)(0.15,0.72)(0.25,0.74)(0.35,0.66)(0.42,0.40)(0.5,-0.18)};
\addplot[ribbon] fill between[of=U and L];
\addplot[loess] coordinates {(0.0,0.18)(0.04,0.50)(0.075,0.85)(0.15,0.88)(0.25,0.92)(0.35,0.93)(0.42,0.90)(0.5,0.86)};
\node[corr] at (rel axis cs:1,1) {partial.cor = 0.308\\p = 4.97e−07};
\end{axis}

\begin{axis}[panel, rowC, dec1, at={(156pt,-318pt)}, xmin=0.028, xmax=0.458, xtick={0.1,0.2,0.3,0.4}]
\addplot[pts] coordinates {
(0.080,0.05)(0.081,0.35)(0.079,0.65)(0.097,0.15)(0.098,0.48)(0.096,0.80)(0.114,0.00)(0.115,0.25)(0.113,0.58)
(0.131,0.05)(0.132,0.35)(0.130,0.65)(0.148,0.15)(0.149,0.48)(0.147,0.80)(0.165,0.00)(0.166,0.25)(0.164,0.58)
(0.182,0.05)(0.183,0.35)(0.181,0.65)(0.199,0.15)(0.200,0.48)(0.198,0.80)(0.216,0.00)(0.217,0.25)(0.215,0.58)
(0.233,0.05)(0.234,0.35)(0.232,0.65)(0.250,0.15)(0.251,0.48)(0.249,0.80)(0.267,0.00)(0.268,0.25)(0.266,0.58)
(0.284,0.05)(0.285,0.35)(0.283,0.65)(0.301,0.15)(0.302,0.48)(0.300,0.80)(0.318,0.00)(0.319,0.25)(0.317,0.58)
(0.335,0.05)(0.336,0.35)(0.352,0.15)(0.353,0.48)(0.369,0.00)(0.370,0.25)
(0.156,6.05)(0.230,5.19)(0.250,5.00)(0.300,4.10)(0.100,3.27)(0.180,3.10)(0.210,3.05)(0.265,3.05)
(0.280,2.92)(0.210,2.55)(0.130,2.68)(0.160,2.30)(0.190,2.20)(0.230,1.90)(0.250,1.80)(0.150,1.80)
(0.120,1.65)(0.200,1.50)(0.280,1.60)(0.350,1.25)(0.433,1.84)(0.448,0.29)(0.170,1.35)(0.240,1.35)
(0.300,1.40)(0.110,1.20)(0.320,1.15)(0.140,1.10)(0.260,2.30)(0.180,2.55)
(0.030,0.40)(0.040,0.15)(0.050,0.55)(0.060,0.25)(0.070,0.70)
(0.390,0.30)(0.400,0.60)(0.410,0.15)(0.420,0.45)(0.430,0.80)(0.440,0.20)};
\addplot[hid, name path=U] coordinates {(0.04,0.95)(0.1,0.70)(0.16,0.75)(0.21,0.95)(0.26,1.25)(0.31,1.40)(0.36,1.50)(0.41,1.70)(0.45,1.85)};
\addplot[hid, name path=L] coordinates {(0.04,-0.15)(0.1,0.20)(0.16,0.45)(0.21,0.65)(0.26,0.85)(0.31,0.85)(0.36,0.65)(0.41,0.15)(0.45,-0.35)};
\addplot[ribbon] fill between[of=U and L];
\addplot[loess] coordinates {(0.04,0.39)(0.1,0.45)(0.16,0.60)(0.21,0.80)(0.26,1.05)(0.31,1.12)(0.36,1.08)(0.41,0.90)(0.45,0.73)};
\node[corr] at (rel axis cs:1,1) {partial.cor = 0.365\\p = 1.54e−09};
\end{axis}

\begin{axis}[panel, rowC, dec1, at={(264pt,-318pt)}, xmin=0.036, xmax=0.448, xtick={0.1,0.2,0.3,0.4}]
\addplot[pts] coordinates {
(0.060,0.05)(0.061,0.35)(0.059,0.65)(0.076,0.15)(0.077,0.48)(0.075,0.80)(0.092,0.00)(0.093,0.25)(0.091,0.58)
(0.108,0.05)(0.109,0.35)(0.107,0.65)(0.124,0.15)(0.125,0.48)(0.123,0.80)(0.140,0.00)(0.141,0.25)(0.139,0.58)
(0.156,0.05)(0.157,0.35)(0.155,0.65)(0.172,0.15)(0.173,0.48)(0.171,0.80)(0.188,0.00)(0.189,0.25)(0.187,0.58)
(0.204,0.05)(0.205,0.35)
(0.113,6.05)(0.057,3.97)(0.093,4.29)(0.103,4.29)(0.133,3.97)(0.160,4.10)(0.090,3.58)(0.085,3.10)
(0.095,2.72)(0.115,2.95)(0.125,2.45)(0.070,2.60)(0.075,2.20)(0.100,1.90)(0.140,1.90)(0.080,1.65)
(0.173,2.47)(0.120,1.50)(0.065,1.40)(0.150,1.30)(0.110,1.20)(0.090,1.10)(0.180,1.05)(0.130,1.05)
(0.220,2.40)(0.140,2.40)
(0.220,0.30)(0.230,0.60)(0.240,0.15)(0.260,0.45)(0.280,0.25)(0.300,0.80)(0.310,0.10)(0.330,0.40)
(0.350,0.65)(0.360,1.05)(0.380,0.35)(0.400,0.55)(0.420,0.20)(0.440,0.80)(0.290,0.95)};
\addplot[hid, name path=U] coordinates {(0.055,3.40)(0.07,2.20)(0.085,1.40)(0.10,0.95)(0.13,0.70)(0.2,0.65)(0.28,0.80)(0.35,1.30)(0.40,2.00)(0.445,2.80)};
\addplot[hid, name path=L] coordinates {(0.055,2.00)(0.07,1.20)(0.085,0.70)(0.10,0.45)(0.13,0.40)(0.2,0.35)(0.28,0.25)(0.35,-0.05)(0.40,-0.45)(0.445,-0.80)};
\addplot[ribbon] fill between[of=U and L];
\addplot[loess] coordinates {(0.055,2.70)(0.07,1.70)(0.085,1.05)(0.10,0.70)(0.13,0.55)(0.2,0.50)(0.28,0.52)(0.35,0.62)(0.40,0.78)(0.445,1.00)};
\node[corr] at (rel axis cs:1,1) {partial.cor = −0.096\\p = 1.22e−01};
\end{axis}

\begin{axis}[panel, rowC, dec1, at={(372.5pt,-318pt)}, xmin=-0.02, xmax=0.426, xtick={0,0.1,0.2,0.3,0.4}]
\addplot[pts] coordinates {
(0.005,0.05)(0.006,0.35)(0.004,0.65)(0.022,0.15)(0.023,0.48)(0.021,0.80)(0.039,0.00)(0.040,0.25)(0.038,0.58)
(0.056,0.05)(0.057,0.35)(0.055,0.65)(0.073,0.15)(0.074,0.48)(0.072,0.80)(0.090,0.00)(0.091,0.25)(0.089,0.58)
(0.107,0.05)(0.108,0.35)(0.106,0.65)(0.124,0.15)(0.125,0.48)(0.123,0.80)(0.141,0.00)(0.142,0.25)(0.140,0.58)
(0.158,0.05)(0.159,0.35)(0.157,0.65)(0.175,0.15)(0.176,0.48)(0.174,0.80)(0.192,0.00)(0.193,0.25)(0.191,0.58)
(0.209,0.05)(0.210,0.35)(0.208,0.65)(0.226,0.15)(0.227,0.48)(0.243,0.00)(0.244,0.25)(0.260,0.05)(0.261,0.35)
(0.000,6.05)(0.000,4.20)(0.000,3.80)(0.000,3.55)(0.000,3.15)(0.000,2.80)(0.000,2.55)(0.000,2.15)
(0.000,1.80)(0.000,1.40)(0.000,1.10)
(0.030,5.19)(0.045,4.23)(0.040,4.23)(0.065,3.40)(0.012,3.55)(0.020,2.80)(0.050,3.05)(0.070,2.25)
(0.100,2.25)(0.130,2.40)(0.160,3.06)(0.165,3.00)(0.190,1.84)(0.190,1.60)(0.325,1.50)(0.410,0.78)
(0.030,1.95)(0.060,1.70)(0.080,1.45)(0.110,1.30)(0.140,1.15)(0.040,1.25)(0.090,1.05)(0.170,1.05)
(0.220,1.20)(0.250,1.00)(0.020,1.50)(0.120,1.75)
(0.270,0.30)(0.280,0.60)(0.290,0.15)(0.300,0.45)(0.310,0.80)(0.320,0.25)(0.340,0.55)(0.350,0.10)
(0.370,0.40)(0.390,0.65)(0.400,0.20)(0.360,0.90)};
\addplot[hid, name path=U] coordinates {(0.0,1.15)(0.05,0.95)(0.1,0.80)(0.15,0.75)(0.2,0.75)(0.3,0.95)(0.41,1.50)};
\addplot[hid, name path=L] coordinates {(0.0,0.75)(0.05,0.65)(0.1,0.48)(0.15,0.38)(0.2,0.28)(0.3,0.00)(0.41,-0.50)};
\addplot[ribbon] fill between[of=U and L];
\addplot[loess] coordinates {(0.0,0.95)(0.05,0.80)(0.1,0.62)(0.15,0.55)(0.2,0.50)(0.3,0.44)(0.41,0.40)};
\node[corr] at (rel axis cs:1,1) {partial.cor = 0.103\\p = 1.06e−01};
\end{axis}

\begin{axis}[panel, rowC, dec1, at={(481pt,-318pt)}, xmin=0.04, xmax=0.288, xtick={0.1,0.2}]
\addplot[pts] coordinates {
(0.060,0.05)(0.061,0.35)(0.059,0.65)(0.071,0.15)(0.072,0.48)(0.070,0.80)(0.082,0.00)(0.083,0.25)(0.081,0.58)
(0.093,0.05)(0.094,0.35)(0.092,0.65)(0.104,0.15)(0.105,0.48)(0.103,0.80)(0.115,0.00)(0.116,0.25)(0.114,0.58)
(0.126,0.05)(0.127,0.35)(0.125,0.65)(0.137,0.15)(0.138,0.48)(0.136,0.80)(0.148,0.00)(0.149,0.25)(0.147,0.58)
(0.159,0.05)(0.160,0.35)(0.158,0.65)(0.170,0.15)(0.171,0.48)(0.169,0.80)(0.181,0.00)(0.182,0.25)(0.180,0.58)
(0.192,0.05)(0.193,0.35)(0.191,0.65)(0.203,0.15)(0.204,0.48)(0.214,0.00)(0.215,0.25)(0.225,0.05)(0.226,0.35)
(0.236,0.15)(0.237,0.48)(0.247,0.00)(0.248,0.25)
(0.122,6.05)(0.135,5.22)(0.092,4.29)(0.096,3.97)(0.104,3.84)(0.100,3.58)(0.088,3.45)(0.098,3.06)
(0.111,3.19)(0.107,2.68)(0.084,2.73)(0.080,2.29)(0.076,2.03)(0.072,1.75)(0.143,3.06)(0.053,2.49)
(0.221,1.56)(0.180,1.20)(0.200,1.15)(0.090,1.65)(0.115,1.95)(0.130,1.40)(0.105,1.25)(0.080,1.15)
(0.150,1.10)(0.120,2.30)(0.095,2.45)
(0.255,0.30)(0.260,0.60)(0.265,0.10)(0.270,0.45)(0.275,0.20)(0.240,0.85)};
\addplot[hid, name path=U] coordinates {(0.05,1.95)(0.07,1.20)(0.09,0.85)(0.12,0.75)(0.16,0.72)(0.2,0.78)(0.24,1.05)(0.275,1.45)};
\addplot[hid, name path=L] coordinates {(0.05,0.15)(0.07,0.50)(0.09,0.60)(0.12,0.57)(0.16,0.50)(0.2,0.36)(0.24,0.05)(0.275,-0.40)};
\addplot[ribbon] fill between[of=U and L];
\addplot[loess] coordinates {(0.05,1.06)(0.07,0.85)(0.09,0.72)(0.12,0.66)(0.16,0.61)(0.2,0.57)(0.24,0.52)(0.275,0.47)};
\node[corr] at (rel axis cs:1,1) {partial.cor = 0.115\\p = 6.46e−02};
\end{axis}

\begin{axis}[panel, rowC, dec1, at={(590pt,-318pt)}, xmin=0.19, xmax=1.09, xtick={0.2,0.4,0.6,0.8,1.0}]
\addplot[pts] coordinates {
(0.250,0.05)(0.251,0.35)(0.249,0.65)(0.286,0.15)(0.287,0.48)(0.285,0.80)(0.322,0.00)(0.323,0.25)(0.321,0.58)
(0.358,0.05)(0.359,0.35)(0.357,0.65)(0.394,0.15)(0.395,0.48)(0.393,0.80)(0.430,0.00)(0.431,0.25)(0.429,0.58)
(0.466,0.05)(0.467,0.35)(0.465,0.65)(0.502,0.15)(0.503,0.48)(0.501,0.80)(0.538,0.00)(0.539,0.25)(0.537,0.58)
(0.574,0.05)(0.575,0.35)(0.573,0.65)(0.610,0.15)(0.611,0.48)(0.609,0.80)(0.646,0.00)(0.647,0.25)(0.645,0.58)
(0.682,0.05)(0.683,0.35)(0.681,0.65)(0.718,0.15)(0.719,0.48)(0.717,0.80)(0.754,0.00)(0.755,0.25)(0.753,0.58)
(0.790,0.05)(0.791,0.35)(0.789,0.65)(0.826,0.15)(0.827,0.48)(0.862,0.00)(0.863,0.25)(0.898,0.05)(0.899,0.35)
(0.934,0.15)(0.935,0.48)(0.970,0.00)(0.971,0.25)(1.006,0.05)(1.007,0.35)(1.042,0.15)(1.043,0.48)
(0.330,6.05)(0.286,3.97)(0.340,3.97)(0.330,3.58)(0.360,3.19)(0.250,2.55)(0.310,2.68)(0.370,2.94)
(0.400,2.42)(0.430,3.06)(0.450,1.90)(0.586,3.97)(0.586,3.06)(0.590,2.42)(0.660,1.64)(0.280,1.95)
(0.320,1.50)(0.380,1.65)(0.350,2.10)(0.410,1.30)(0.300,1.20)(0.500,1.15)(0.620,1.25)(0.700,1.10)
(0.550,1.40)(0.270,1.05)(0.360,1.05)(0.460,1.05)(0.800,1.10)(0.900,1.05)(1.030,1.20)};
\addplot[hid, name path=U] coordinates {(0.23,0.75)(0.28,0.95)(0.33,1.10)(0.40,0.95)(0.46,0.65)(0.52,0.90)(0.60,1.10)(0.70,1.10)(0.80,1.10)(0.92,1.25)(1.06,1.70)};
\addplot[hid, name path=L] coordinates {(0.23,-0.15)(0.28,0.35)(0.33,0.60)(0.40,0.40)(0.46,0.15)(0.52,0.40)(0.60,0.60)(0.70,0.65)(0.80,0.55)(0.92,0.20)(1.06,-0.60)};
\addplot[ribbon] fill between[of=U and L];
\addplot[loess] coordinates {(0.23,0.30)(0.28,0.65)(0.33,0.85)(0.40,0.68)(0.46,0.40)(0.52,0.65)(0.60,0.85)(0.70,0.88)(0.80,0.82)(0.92,0.70)(1.06,0.50)};
\node[corr] at (rel axis cs:1,1) {partial.cor = 0.165\\p = 8.36e−03};
\end{axis}

% ================= strips, labels and panel D =================
\begin{scope}[x=1pt, y=-1pt]
\foreach \x/\t in {47/{B Cell},155/{CD8\textsuperscript{+} T Cell},263/{CD4\textsuperscript{+} T Cell},371/{Macrophage},479/{Neutrophil},587/{Dendritic Cell}}{
  \draw[fill=stripgray, draw=black!50, line width=0.6pt] (\x,17) rectangle ++(104,11);
  \node[font=\fontsize{6}{6}\selectfont, text=black!85] at ({\x+52},22.5) {\t};
}
\foreach \x/\t in {47/{B Cell},155/{CD8\textsuperscript{+} T Cell},263/{CD4\textsuperscript{+} T Cell},372/{Macrophage},480/{Neutrophil},588/{Dendritic Cell}}{
  \draw[fill=stripgray, draw=black!50, line width=0.6pt] (\x,162) rectangle ++(104,10);
  \node[font=\fontsize{6}{6}\selectfont, text=black!85] at ({\x+52},167) {\t};
}
\foreach \x/\t in {48/{B Cell},156/{CD8\textsuperscript{+} T Cell},264/{CD4\textsuperscript{+} T Cell},372.5/{Macrophage},481/{Neutrophil},590/{Dendritic Cell}}{
  \draw[fill=stripgray, draw=black!50, line width=0.6pt] (\x,308) rectangle ++(104,10);
  \node[font=\fontsize{6}{6}\selectfont, text=black!85] at ({\x+52},313) {\t};
}

\node[font=\fontsize{14}{14}\selectfont] at (7.5,10) {A};
\node[font=\fontsize{14}{14}\selectfont] at (7.5,155) {B};
\node[font=\fontsize{14}{14}\selectfont] at (8,303) {C};
\node[font=\fontsize{14}{14}\selectfont] at (85,464) {D};

\node[rotate=90, font=\fontsize{8.3}{8.3}\selectfont, text=black!85] at (21,85) {\textit{SLC7A11} expression level (log2 TPM)};
\node[rotate=90, font=\fontsize{8.3}{8.3}\selectfont, text=black!85] at (21,232) {\textit{SLC7A11} expression level (log2 TPM)};
\node[rotate=90, font=\fontsize{8.3}{8.3}\selectfont, text=black!85] at (21,380) {\textit{SLC7A11} expression level (log2 TPM)};

\node[font=\fontsize{9}{9}\selectfont] at (371,144) {Infiltration level};
\node[font=\fontsize{9}{9}\selectfont] at (371,288) {Infiltration level};
\node[font=\fontsize{9}{9}\selectfont] at (373,435) {Infiltration level};

% headings of panel D
\node[anchor=base west, font=\fontsize{10}{10}\selectfont, text=black!85] at (168,463.5) {Kidney};
\node[anchor=base west, font=\fontsize{10}{10}\selectfont, text=black!85] at (168,476) {chromophobe};
\node[anchor=base west, font=\fontsize{10}{10}\selectfont, text=black!85] at (322,462.5) {Kidney renal clear};
\node[anchor=base west, font=\fontsize{10}{10}\selectfont, text=black!85] at (322,475) {cell carcinoma};
\node[anchor=base west, font=\fontsize{10}{10}\selectfont, text=black!85] at (459,458.5) {Kidney renal papillary};
\node[anchor=base west, font=\fontsize{10}{10}\selectfont, text=black!85] at (459,471) {cell carcinoma};

% connectors
\draw[black!75, line width=0.8pt] (201,561) -- (201,602) (193,602) -- (209,602);
\draw[black!75, line width=0.8pt] (359.5,561) -- (359.5,602) (351.5,602) -- (367.5,602);
\draw[black!75, line width=0.8pt] (502,561) -- (502,602) (494,602) -- (510,602);
\draw[black!75, line width=0.8pt] (201,677) -- (300.6,741) (295.5,749) -- (305.7,733);
\draw[black!75, line width=0.8pt] (359.5,677) -- (359.5,720) (351,720) -- (369,720);
\draw[black!75, line width=0.8pt] (504,677) -- (424,741) (429.9,748.5) -- (418.1,733.5);

% ellipses
\fill[ellblue] (201,525) ellipse [x radius=61pt, y radius=36pt];
\fill[ellblue] (359.5,525) ellipse [x radius=60.5pt, y radius=36pt];
\fill[ellblue] (502,525) ellipse [x radius=61pt, y radius=36pt];
\fill[ellgreen] (201,642) ellipse [x radius=61pt, y radius=35pt];
\fill[ellgreen] (359.5,642) ellipse [x radius=60.5pt, y radius=35pt];
\fill[ellgreen] (502,642) ellipse [x radius=61pt, y radius=35pt];
\fill[ellpurple] (361,759) ellipse [x radius=60pt, y radius=36pt];

% ellipse texts
\node[font=\fontsize{9.5}{9.5}\selectfont, text=white] at (194,524) {SNHG6};
\node[anchor=base west, font=\fontsize{9.5}{9.5}\itshape, text=white] at (333,515) {CASC19/};
\node[anchor=base west, font=\fontsize{9.5}{9.5}\itshape, text=white] at (333,527) {CYTOR/};
\node[anchor=base west, font=\fontsize{9.5}{9.5}\itshape, text=white] at (333,540) {LINC00997};
\node[anchor=base west, font=\fontsize{9.5}{9.5}\itshape, text=white] at (479,514.5) {CASC19/};
\node[anchor=base west, font=\fontsize{9.5}{9.5}\itshape, text=white] at (479,527) {CYTOR/};
\node[anchor=base west, font=\fontsize{9.5}{9.5}\itshape, text=white] at (479,539.5) {PVT1};
\node[font=\fontsize{9.5}{9.5}\selectfont, text=black!90] at (193,642) {miR-26a-5p};
\node[font=\fontsize{9.5}{9.5}\selectfont, text=black!90] at (355,645) {miR-27b-3p};
\node[font=\fontsize{9.5}{9.5}\selectfont, text=black!90] at (503.5,643) {miR-27b-3p};
\node[font=\fontsize{9.5}{9.5}\selectfont, text=red] at (358,760) {SLC7A11};

% up / down arrows
\redup{237}{513}{538}
\redup{405.5}{509}{535}
\redup{547}{509}{535}
\redup{401.5}{748}{772}
\blackdown{248}{630}{655}
\blackdown{407.5}{630}{655}
\blackdown{548}{630}{655}
\end{scope}

\pgfresetboundingbox
\path[use as bounding box] (0,0) rectangle (697pt,-796pt);
\end{tikzpicture}
\end{document}
